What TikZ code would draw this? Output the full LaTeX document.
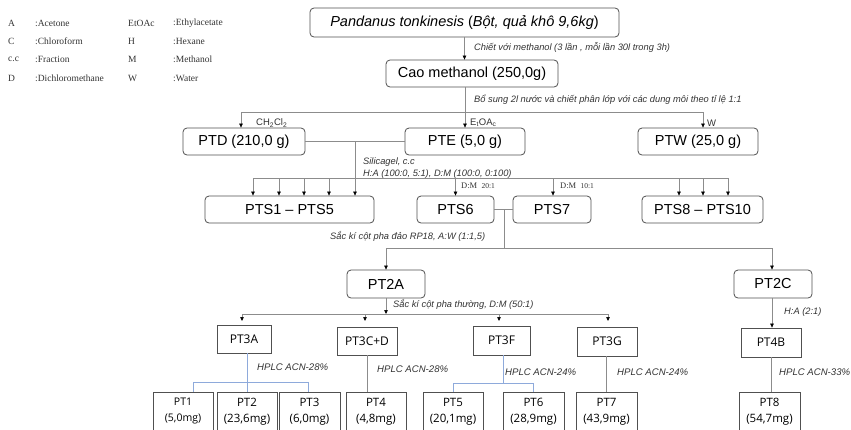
\documentclass[tikz,border=0pt]{standalone}
\usepackage{fontspec}
\setmainfont{Liberation Sans}
\newfontfamily\serifleg{Liberation Serif}
\newfontfamily\osans{Open Sans}
\usetikzlibrary{arrows.meta}
\definecolor{lineg}{HTML}{8C8C8C}
\definecolor{boxg}{HTML}{505050}
\definecolor{blueln}{HTML}{8EAADB}
\definecolor{txtg}{HTML}{333333}
\begin{document}
\begin{tikzpicture}[x=1pt,y=-1pt,
  wh/.style 2 args={minimum width=#1pt, minimum height=#2pt},
  rbox/.style={draw=boxg, rounded corners=4pt, line width=0.8pt, inner sep=0pt, font=\fontsize{14.5}{16}\selectfont},
  sbox/.style={draw=boxg, line width=0.8pt, inner sep=0pt, font=\osans\fontsize{12}{14}\selectfont},
  bbox/.style={draw=boxg, line width=0.8pt, inner sep=0pt, align=center, font=\osans\fontsize{11.5}{16}\selectfont},
  conn/.style={draw=lineg, line width=0.6pt},
  bconn/.style={draw=blueln, line width=0.8pt},
  arr/.style={conn, -{Triangle[length=4pt,width=3.5pt,color=black]}},
  lab/.style={font=\itshape\fontsize{9.3}{11}\selectfont, text=txtg, anchor=west, inner sep=0pt},
  hlab/.style={lab, font=\itshape\fontsize{9.6}{11}\selectfont},
  sub/.style={font=\fontsize{9.5}{11}\selectfont, text=txtg, anchor=west, inner sep=0pt},
  leg/.style={font=\serifleg\fontsize{9.5}{10}\selectfont, text=txtg, anchor=west, inner sep=0pt},
  dm/.style={font=\serifleg\fontsize{8.5}{10}\selectfont, text=txtg, anchor=west, inner sep=0pt}
]
\useasboundingbox (0,0) rectangle (851,429);
\clip (0,0) rectangle (851,429);
\fill[white] (0,0) rectangle (851,429);

% legend
\node[leg] (l1a) at (8,23) {A};
\node[leg] (l1b) at (35,23) {:Acetone};
\node[leg] (l1c) at (128,23) {EtOAc};
\node[leg] (l1d) at (173,23) {:Ethylacetate};
\node[leg] (l2a) at (8,41) {C};
\node[leg] (l2b) at (35,41) {:Chloroform};
\node[leg] (l2c) at (128,41) {H};
\node[leg] (l2d) at (173,41) {:Hexane};
\node[leg] (l3a) at (8,59) {c.c};
\node[leg] (l3b) at (35,59) {:Fraction};
\node[leg] (l3c) at (128,59) {M};
\node[leg] (l3d) at (173,59) {:Methanol};
\node[leg] (l4a) at (8,78) {D};
\node[leg] (l4b) at (35,78) {:Dichloromethane};
\node[leg] (l4c) at (128,78) {W};
\node[leg] (l4d) at (173,78) {:Water};

% main boxes
\node[rbox, wh={309}{29}] (top) at (464.5,22.5) {\textit{Pandanus tonkinesis} (\textit{Bột, quả khô 9,6kg})};
\node[rbox, wh={172}{27}] (cao) at (472,73.5) {Cao methanol (250,0g)};
\node[rbox, wh={122}{27}] (ptd) at (244,141.5) {PTD (210,0 g)};
\node[rbox, wh={120}{27}] (pte) at (465,141.5) {PTE (5,0 g)};
\node[rbox, wh={120}{27}] (ptw) at (698,141.5) {PTW (25,0 g)};
\node[rbox, wh={169}{27}] (pts15) at (289.5,209.5) {PTS1 – PTS5};
\node[rbox, wh={77}{27}] (pts6) at (455.5,209.5) {PTS6};
\node[rbox, wh={78}{27}] (pts7) at (552,209.5) {PTS7};
\node[rbox, wh={121}{27}] (pts810) at (702.5,209.5) {PTS8 – PTS10};
\node[rbox, wh={78}{28}] (pt2a) at (386,284) {PT2A};
\node[rbox, wh={78}{28}] (pt2c) at (773,284) {PT2C};

\node[sbox, wh={54}{28}] (pt3a) at (244,339) {PT3A};
\node[sbox, wh={60}{28}] (pt3cd) at (367,341) {PT3C+D};
\node[sbox, wh={57}{29}] (pt3f) at (501.5,340.5) {PT3F};
\node[sbox, wh={60}{29}] (pt3g) at (607,341.5) {PT3G};
\node[sbox, wh={60}{29}] (pt4b) at (771,342.5) {PT4B};

\node[bbox, wh={60}{39}, font=\osans\fontsize{10.5}{16}\selectfont] (pt1) at (183,411.5) {PT1\\(5,0mg)};
\node[bbox, wh={60}{39}] (pt2) at (247,411.5) {PT2\\(23,6mg)};
\node[bbox, wh={61}{39}] (pt3) at (309.5,411.5) {PT3\\(6,0mg)};
\node[bbox, wh={60}{39}] (pt4) at (376,411.5) {PT4\\(4,8mg)};
\node[bbox, wh={60}{39}] (pt5) at (453,411.5) {PT5\\(20,1mg)};
\node[bbox, wh={61}{39}] (pt6) at (533.5,411.5) {PT6\\(28,9mg)};
\node[bbox, wh={61}{39}] (pt7) at (606.5,411.5) {PT7\\(43,9mg)};
\node[bbox, wh={61}{39}] (pt8) at (769.5,411.5) {PT8\\(54,7mg)};

% labels
\node[lab] (t1) at (474,47) {Chiết với methanol (3 lần , mỗi lần 30l trong 3h)};
\node[lab] (t2) at (474,100) {Bổ sung 2l nước và chiết phân lớp với các dung môi theo tỉ lệ 1:1};
\node[sub] (t3) at (256,123) {CH\textsubscript{2}Cl\textsubscript{2}};
\node[sub] (t4) at (470,123) {E\textsubscript{t}OA\textsubscript{c}};
\node[sub] (t5) at (707,123) {W};
\node[lab] (t6) at (363,162) {Silicagel, c.c};
\node[lab] (t7) at (363,174) {H:A (100:0, 5:1), D:M (100:0, 0:100)};
\node[dm] (t8) at (461,186) {D:M\ \ {\fontsize{7.5}{9}\selectfont 20:1}};
\node[dm] (t9) at (560,186) {D:M\ \ {\fontsize{7.5}{9}\selectfont 10:1}};
\node[lab] (t10) at (330,236) {Sắc kí cột pha đảo RP18, A:W (1:1,5)};
\node[lab] (t11) at (393,304) {Sắc kí cột pha thường, D:M (50:1)};
\node[lab] (t12) at (784,312) {H:A (2:1)};
\node[hlab] (t13) at (257,367) {HPLC ACN-28\%};
\node[hlab] (t14) at (377,369) {HPLC ACN-28\%};
\node[hlab] (t15) at (505,372) {HPLC ACN-24\%};
\node[hlab] (t16) at (617,372) {HPLC ACN-24\%};
\node[hlab] (t17) at (779,372) {HPLC ACN-33\%};

% connectors
\draw[arr] (top.south) -- (top.south |- cao.north);
\coordinate (sp) at (465,112);
\draw[arr] (cao.south -| sp) -- (pte.north);
\coordinate (spl) at (241,112);
\coordinate (spr) at (703,112);
\draw[conn] (spl) -- (spr);
\draw[arr] (spl) -- (spl |- ptd.north);
\draw[arr] (spr) -- (spr |- ptw.north);

\draw[conn] (ptd.east) -- (pte.west);
\coordinate (j1) at (355,141.5);
\draw[arr] (j1) -- (j1 |- pts15.north);
\coordinate (hl2) at (253,178);
\coordinate (hr2) at (728,178);
\draw[conn] (hl2) -- (hr2);
\foreach \xx in {253,279,304,329} \draw[arr] (\xx,178) -- (\xx,178 |- pts15.north);
\draw[arr] (455.5,178) -- (pts6.north);
\draw[arr] (553,178) -- (553,178 |- pts7.north);
\foreach \xx in {679,703,728} \draw[arr] (\xx,178) -- (\xx,178 |- pts810.north);

\draw[conn] (pts6.east) -- (pts7.west);
\coordinate (j2) at (504,209.5);
\coordinate (j3) at (504,248);
\draw[conn] (j2) -- (j3);
\coordinate (hl3) at (386,248);
\coordinate (hr3) at (772,248);
\draw[conn] (hl3) -- (hr3);
\draw[arr] (hl3) -- (pt2a.north);
\draw[arr] (hr3) -- (hr3 |- pt2c.north);

\coordinate (j4) at (386,314);
\draw[arr] (pt2a.south) -- (j4);
\coordinate (hl4) at (242,314);
\coordinate (hr4) at (608,314);
\draw[conn] (hl4) -- (hr4);
\foreach \xx in {242,365,499,608} \draw[arr] (\xx,314) -- (\xx,321);
\draw[arr] (pt2c.south -| hr3) -- (hr3 |- pt4b.north);

% lower connectors
\coordinate (b1) at (193,382);
\coordinate (b2) at (308,382);
\draw[bconn] (pt3a.south -| pt2.north) -- (pt2.north);
\draw[bconn] (b1 |- pt1.north) -- (b1) -- (b2) -- (b2 |- pt3.north);
\draw[conn] (pt3cd.south) -- (pt3cd.south |- pt4.north);
\coordinate (b3) at (503,383);
\draw[bconn] (pt3f.south -| b3) -- (b3);
\draw[bconn] (pt5.north) -- (pt5.north |- b3) -- (pt6.north |- b3) -- (pt6.north);
\draw[conn] (pt3g.south -| pt7.north) -- (pt7.north);
\draw[conn] (pt4b.south) -- (pt4b.south |- pt8.north);
\end{tikzpicture}
\end{document}
